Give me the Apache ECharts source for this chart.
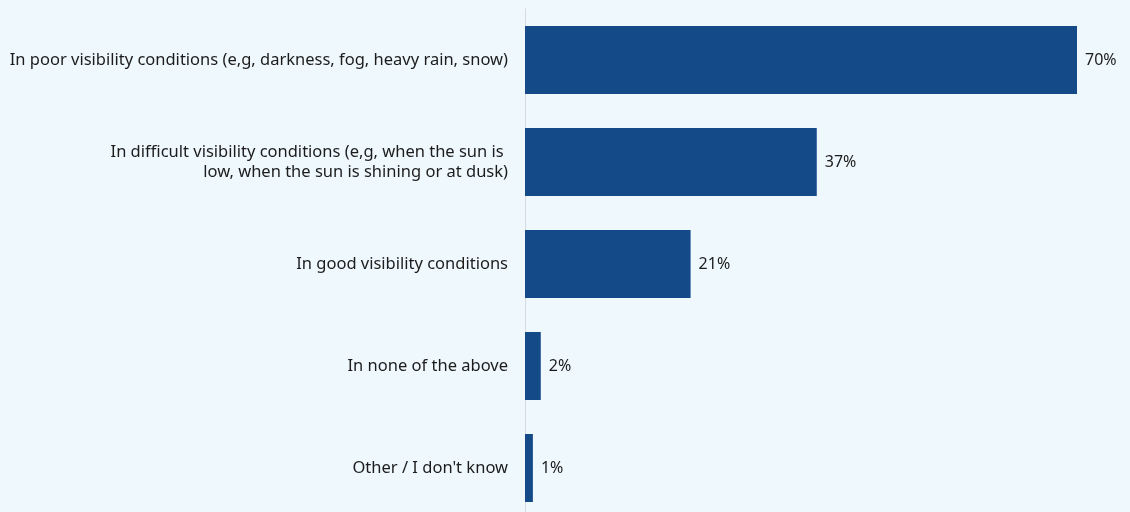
<!DOCTYPE html>
<html>
<head>
<meta charset="utf-8">
<style>
  html, body { margin: 0; padding: 0; background: #eff8fd; overflow: hidden; }
  #chart { width: 1130px; height: 519px; }
</style>
<script src="https://cdn.jsdelivr.net/npm/echarts@6/dist/echarts.min.js"></script>
</head>
<body>
<div id="chart"></div>
<script>
// Survey answers, top to bottom
const categories = [
  'In poor visibility conditions (e,g, darkness, fog, heavy rain, snow)',
  'In difficult visibility conditions (e,g, when the sun is \nlow, when the sun is shining or at dusk)',
  'In good visibility conditions',
  'In none of the above',
  "Other / I don't know"
];
// Share of respondents, percent
const values = [70, 37, 21, 2, 1];

const chart = echarts.init(document.getElementById('chart'), null, { renderer: 'canvas' });
chart.setOption({
  backgroundColor: '#eff8fd',
  animation: false,
  textStyle: { fontFamily: 'Noto Sans' },
  grid: { left: 525, top: 9, width: 552, bottom: 0 },
  xAxis: {
    type: 'value',
    min: 0,
    max: 'dataMax',
    show: false
  },
  yAxis: {
    type: 'category',
    data: categories,
    inverse: true,
    axisLine: { show: true, lineStyle: { color: '#d6dbde', width: 1 } },
    axisTick: { show: false },
    splitLine: { show: false },
    axisLabel: {
      margin: 17,
      color: '#1c1c1c',
      fontSize: 16.5,
      lineHeight: 20,
      align: 'right',
      fontFamily: 'Noto Sans'
    }
  },
  series: [{
    type: 'bar',
    data: values,
    barWidth: 68,
    itemStyle: { color: '#154a89' },
    label: {
      show: true,
      position: 'right',
      distance: 8,
      color: '#1c1c1c',
      fontSize: 16,
      fontFamily: 'Noto Sans',
      formatter: p => p.value + '%'
    }
  }]
});
</script>
</body>
</html>
